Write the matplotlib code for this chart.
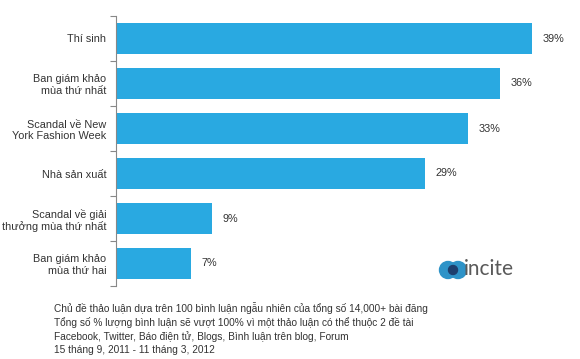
import numpy as np
import matplotlib
matplotlib.use("Agg")
import matplotlib.pyplot as plt
from matplotlib.patches import Circle

plt.rcParams['font.family'] = ['Liberation Sans', 'DejaVu Sans']

categories = ['Thí sinh', 'Ban giám khảo\nmùa thứ nhất', 'Scandal về New\nYork Fashion Week',
              'Nhà sản xuất', 'Scandal về giải\nthưởng mùa thứ nhất', 'Ban giám khảo\nmùa thứ hai']
values = [39, 36, 33, 29, 9, 7]
value_labels = ['39%', '36%', '33%', '29%', '9%', '7%']
footnote = ['Chủ đề thảo luận dựa trên 100 bình luận ngẫu nhiên của tổng số 14,000+ bài đăng',
            'Tổng số % lượng bình luận sẽ vượt 100% vì một thảo luận có thể thuộc 2 đề tài',
            'Facebook, Twitter, Báo điện tử, Blogs, Bình luận trên blog, Forum',
            '15 tháng 9, 2011 - 11 tháng 3, 2012']

W, H = 580, 359
fig = plt.figure(figsize=(W / 100, H / 100), dpi=100)
ax = fig.add_axes([116 / W, 1 - 286 / H, 448 / W, 270 / H])

y = np.arange(len(categories))[::-1]
ax.barh(y, values, height=0.71, color='#29a9e1')
for yi, v, lab in zip(y, values, value_labels):
    ax.text(v + 1.0, yi, lab, va='center', ha='left', fontsize=7.8, color='#333333')

ax.set_xlim(0, 42)
ax.set_ylim(-0.5, len(categories) - 0.5)
ax.set_yticks(y)
ax.set_yticklabels(categories, fontsize=7.8, color='#333333', linespacing=1.2)
ax.set_yticks(np.arange(len(categories) + 1) - 0.5, minor=True)
ax.tick_params(axis='y', which='major', length=0, pad=7)
ax.tick_params(axis='y', which='minor', length=4, color='#888888', width=0.8)
ax.set_xticks([])
for s in ['top', 'right', 'bottom']:
    ax.spines[s].set_visible(False)
ax.spines['left'].set_color('#888888')
ax.spines['left'].set_linewidth(0.8)

fig.text(54 / W, 1 - 302 / H, '\n'.join(footnote), fontsize=7.3, color='#333333',
         va='top', ha='left', linespacing=1.36)

# logo
lax = fig.add_axes([438 / W, 1 - 282 / H, 30 / W, 24 / H])
lax.set_xlim(0, 30)
lax.set_ylim(0, 24)
lax.set_aspect('equal')
lax.axis('off')
lax.add_patch(Circle((10, 12), 8.5, color='#2e93c8'))
lax.add_patch(Circle((20, 12), 8.5, color='#2e93c8'))
lax.add_patch(Circle((15, 12), 4.5, color='#1d3f6e'))
fig.text(464 / W, 1 - 269 / H, 'incite', fontsize=15, color='#5a5a5a', va='center',
         ha='left', family=['Lato', 'DejaVu Sans'])

fig.savefig('out.png', dpi=100, facecolor='white')
